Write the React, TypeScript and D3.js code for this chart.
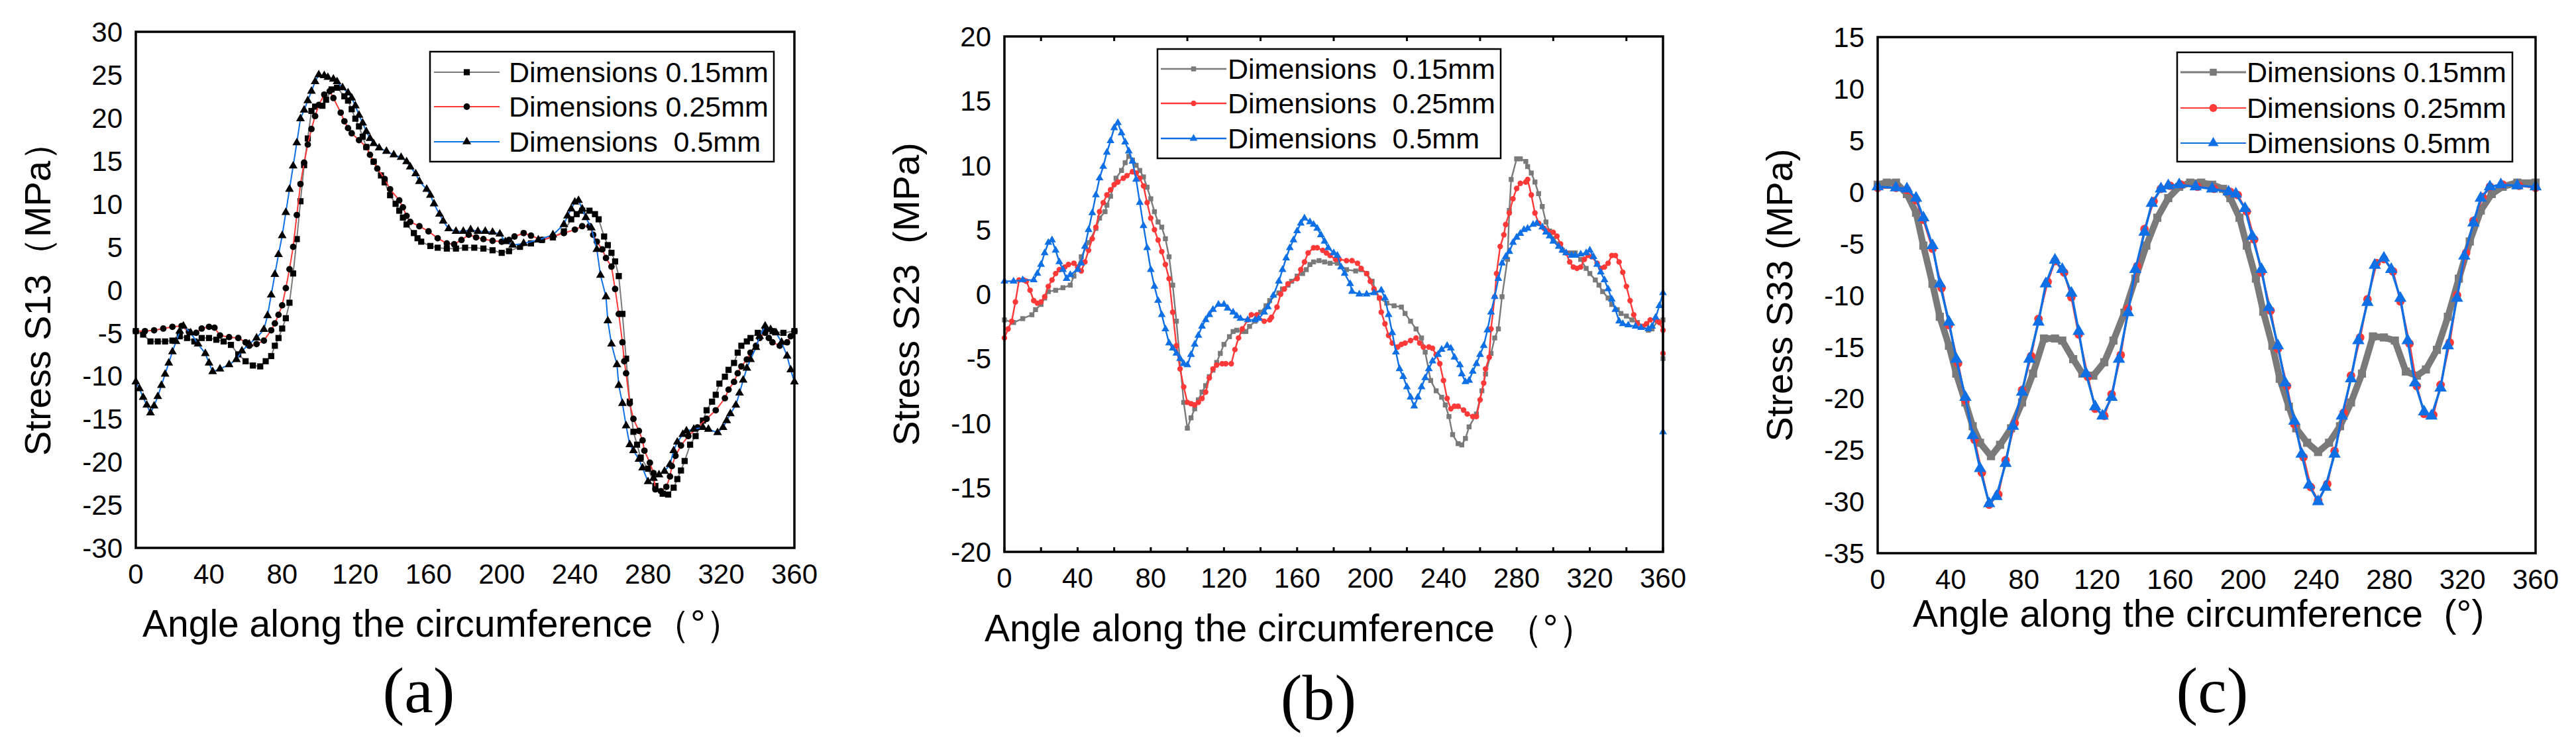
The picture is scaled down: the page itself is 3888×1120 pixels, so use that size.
import * as d3 from 'd3'

type Pt = [number, number]

// ---- data: [angle (deg), stress (MPa)] ----
const s13_015: Pt[] = [[0,-4.8],[4,-5.2],[8,-6.0],[12,-6.0],[16,-6.0],[20,-5.9],[24,-5.4],[28,-5.6],[32,-6.0],[36,-5.6],[40,-5.6],[44,-5.8],[48,-6.0],[52,-6.4],[56,-7.5],[60,-8.3],[64,-8.8],[68,-8.9],[71,-8.3],[74,-7.7],[76,-6.5],[78,-5.6],[80,-4.5],[82,-3.3],[84,-1.5],[86,1.9],[88,5.9],[90,10.3],[92,14.5],[94,17.6],[96,20.8],[98,21.3],[102,21.4],[104,22.1],[107,23.3],[110,23.5],[114,22.5],[116,22.0],[118,21.0],[120,19.9],[122,19.0],[124,17.8],[126,16.6],[130,14.9],[134,13.3],[136,12.5],[139,11.0],[142,10.0],[144,9.2],[146,8.4],[148,7.6],[152,6.6],[154,6.0],[156,5.6],[161,5.1],[165,4.9],[170,4.8],[175,4.8],[180,4.9],[185,4.9],[190,4.8],[195,4.6],[200,4.3],[204,4.5],[210,5.0],[216,5.4],[222,5.8],[228,6.1],[234,6.8],[238,8.2],[241,8.8],[244,9.2],[248,9.2],[251,8.8],[253,8.2],[256,6.2],[258,5.2],[260,4.3],[262,3.3],[264,1.6],[266,-2.8],[268,-8.0],[270,-13.0],[272,-16.5],[274,-18.0],[276,-19.5],[280,-20.8],[284,-22.8],[288,-23.7],[291,-23.8],[294,-23.0],[296,-22.0],[298,-21.0],[300,-19.9],[303,-18.0],[306,-17.0],[310,-15.2],[312,-14.0],[315,-13.0],[317,-12.2],[319,-10.9],[322,-10.1],[324,-9.3],[327,-8.5],[329,-7.3],[331,-6.5],[334,-6.0],[336,-5.6],[340,-5.0],[344,-4.6],[348,-4.8],[354,-5.0],[360,-4.8]]
const s13_025: Pt[] = [[0,-4.8],[5,-4.8],[10,-4.7],[15,-4.5],[20,-4.3],[25,-4.2],[29,-4.9],[33,-5.0],[36,-4.5],[40,-4.3],[43,-4.4],[46,-5.3],[51,-5.5],[56,-5.6],[60,-6.1],[62,-6.5],[66,-6.3],[70,-5.9],[74,-4.7],[76,-3.9],[78,-2.9],[80,-1.8],[82,0.2],[84,2.4],[86,5.0],[88,8.7],[90,12.3],[92,14.8],[94,16.9],[96,18.7],[98,20.2],[100,21.5],[103,22.7],[106,23.1],[108,22.3],[112,20.6],[114,19.6],[116,18.8],[118,18.2],[122,17.4],[126,16.6],[128,15.7],[130,14.9],[132,14.1],[136,12.9],[139,11.7],[144,10.4],[146,9.6],[148,8.6],[150,7.9],[155,7.4],[160,6.8],[165,6.0],[170,5.4],[174,5.3],[178,5.8],[182,6.4],[186,6.1],[190,5.9],[195,5.7],[200,5.6],[204,5.8],[207,6.2],[212,6.6],[216,6.3],[222,5.8],[228,6.2],[234,6.6],[240,7.0],[244,7.4],[248,7.4],[250,6.4],[252,5.6],[255,4.7],[257,3.7],[260,2.7],[262,0.1],[264,-2.8],[266,-6.1],[267,-8.3],[268,-9.7],[270,-13.2],[272,-15.0],[275,-16.4],[277,-17.5],[278,-18.7],[281,-20.1],[283,-21.3],[284,-23.2],[287,-23.4],[290,-22.9],[292,-21.7],[293,-20.5],[295,-19.3],[298,-18.1],[302,-17.0],[307,-16.0],[312,-15.0],[317,-14.0],[322,-12.6],[324,-11.6],[327,-10.7],[329,-9.7],[331,-8.9],[334,-8.1],[336,-7.3],[339,-6.5],[341,-5.6],[344,-5.0],[346,-5.6],[348,-6.1],[352,-6.5],[356,-6.1],[358,-5.4],[360,-4.8]]
const s13_05: Pt[] = [[0,-10.7],[2,-11.5],[4,-12.5],[6,-13.4],[8,-14.3],[10,-13.5],[12,-12.4],[14,-11.1],[16,-9.8],[18,-8.5],[20,-7.2],[22,-6.0],[24,-4.8],[26,-4.2],[30,-5.0],[34,-6.3],[38,-7.4],[40,-8.5],[42,-9.5],[46,-9.2],[51,-8.7],[55,-8.1],[58,-7.1],[62,-6.3],[66,-5.6],[70,-4.6],[72,-3.0],[74,-0.6],[76,1.8],[78,4.1],[80,6.3],[82,9.0],[84,11.7],[86,14.4],[88,17.1],[90,19.9],[92,20.9],[94,22.0],[96,23.1],[98,24.2],[100,25.0],[103,24.9],[105,24.7],[108,24.5],[110,24.2],[113,23.5],[116,22.9],[118,22.3],[120,21.4],[122,20.3],[124,19.4],[126,18.4],[128,17.6],[130,17.0],[133,16.5],[137,16.1],[141,15.7],[145,15.4],[148,14.9],[150,14.3],[153,13.5],[155,12.6],[159,11.7],[161,11.0],[163,10.0],[166,8.8],[168,8.0],[171,7.1],[175,6.8],[179,6.8],[183,7.0],[187,6.8],[191,6.8],[195,6.7],[199,6.5],[202,5.6],[206,5.2],[212,5.4],[220,5.8],[228,6.4],[234,7.6],[236,8.6],[238,9.4],[240,10.2],[242,10.4],[244,9.4],[246,8.4],[249,7.2],[252,4.7],[254,1.7],[257,-0.8],[258,-3.6],[260,-6.3],[263,-8.7],[264,-11.1],[266,-13.2],[268,-15.8],[270,-18.0],[272,-18.7],[275,-19.7],[277,-20.7],[280,-22.3],[283,-21.9],[286,-21.5],[289,-21.1],[292,-20.3],[294,-18.7],[296,-17.7],[299,-16.8],[301,-16.4],[305,-16.2],[310,-16.0],[313,-16.2],[318,-16.6],[321,-16.0],[323,-15.2],[325,-14.4],[328,-13.4],[330,-12.0],[332,-10.5],[334,-9.1],[336,-8.1],[339,-6.7],[341,-5.4],[344,-4.2],[347,-4.6],[350,-5.0],[353,-6.1],[356,-7.7],[358,-9.3],[360,-10.7]]

const s23_015: Pt[] = [[0,-2.0],[5,-2.2],[10,-1.9],[15,-1.6],[17,-1.2],[20,-0.8],[22,-0.3],[24,0.2],[28,0.3],[32,0.5],[36,0.7],[38,1.4],[42,2.9],[46,4.0],[50,5.1],[52,5.9],[55,6.4],[56,6.9],[58,7.6],[61,9.0],[64,9.6],[66,10.2],[68,10.7],[70,10.4],[72,10.0],[74,9.6],[76,9.1],[78,8.3],[80,7.4],[82,6.4],[84,5.6],[86,5.2],[88,4.3],[90,2.9],[92,0.7],[94,-2.1],[98,-8.4],[100,-10.4],[102,-9.6],[104,-8.9],[106,-8.2],[108,-7.6],[110,-7.1],[112,-6.4],[114,-5.9],[116,-5.3],[118,-4.6],[120,-3.9],[123,-3.3],[125,-2.9],[127,-2.8],[130,-2.9],[132,-2.9],[134,-2.5],[137,-2.1],[140,-1.4],[143,-0.9],[145,-0.5],[150,0.1],[152,0.4],[155,0.7],[157,1.0],[160,1.4],[163,1.6],[165,1.9],[167,2.3],[169,2.5],[172,2.6],[175,2.5],[178,2.4],[182,2.4],[187,1.9],[192,1.8],[195,1.9],[198,1.6],[201,1.0],[205,-0.3],[209,-0.7],[213,-0.9],[217,-1.0],[219,-1.5],[222,-2.1],[225,-2.7],[228,-3.4],[230,-4.5],[233,-6.7],[236,-7.5],[239,-8.0],[241,-8.6],[243,-9.5],[245,-10.9],[248,-11.6],[250,-11.7],[252,-11.2],[254,-10.3],[258,-9.3],[261,-7.5],[263,-6.2],[266,-4.6],[268,-3.4],[270,-2.7],[272,-0.2],[275,2.7],[276,6.5],[277,8.9],[280,10.5],[282,10.5],[285,10.3],[286,9.9],[288,9.4],[290,8.7],[292,7.8],[294,6.8],[296,5.6],[298,4.9],[300,4.3],[303,3.9],[305,3.4],[308,3.2],[310,3.2],[312,3.2],[315,2.7],[318,2.0],[320,1.6],[323,1.1],[325,0.7],[327,0.2],[330,-0.3],[332,-0.8],[335,-1.2],[337,-1.5],[340,-1.7],[343,-2.0],[346,-2.2],[349,-2.5],[352,-2.8],[354,-2.7],[357,-2.1],[360,-2.0],[360,-5.0]]
const s23_025: Pt[] = [[0,-3.4],[2,-2.7],[4,-2.1],[6,-0.6],[8,1.1],[10.5,1.1],[12,1.0],[14,0.3],[16,-0.5],[18,-0.7],[20,-0.6],[22,-0.2],[24,0.6],[26,1.1],[28,1.6],[30,1.9],[33,2.1],[35,2.3],[38,2.4],[40,2.1],[42,1.8],[44,2.5],[46,3.4],[48,4.3],[50,5.2],[52,6.4],[54,7.1],[56,7.7],[58,8.1],[60,8.5],[62,8.7],[65,9.0],[67,9.2],[70,9.5],[72,9.4],[74,9.0],[76,8.4],[78,7.1],[80,5.9],[82,5.0],[84,4.2],[86,3.3],[88,2.3],[90,1.2],[92,-1.4],[94,-4.0],[96,-5.8],[98,-7.2],[100,-8.4],[102,-8.5],[104,-8.6],[106,-8.4],[108,-8.1],[110,-7.6],[112,-6.5],[114,-5.8],[116,-5.5],[119,-5.4],[121,-5.4],[124,-5.4],[126,-4.3],[128,-3.4],[130,-2.7],[133,-2.0],[135,-1.6],[138,-1.6],[142,-2.1],[145,-2.0],[146,-1.8],[149,-1.0],[151,0.0],[153,0.4],[155,0.8],[160,1.2],[162,1.9],[164,2.5],[166,3.2],[169,3.6],[171,3.6],[174,3.4],[176,3.2],[178,3.0],[181,2.7],[183,2.7],[187,2.6],[190,2.6],[193,2.4],[195,2.0],[198,1.6],[200,1.0],[202,0.4],[205,-0.3],[206,-1.4],[208,-2.3],[210,-3.2],[212,-3.8],[215,-4.1],[217,-3.9],[219,-3.8],[222,-3.6],[225,-3.4],[227,-3.8],[229,-4.1],[232,-4.1],[234,-4.2],[236,-4.7],[238,-5.4],[240,-6.7],[242,-8.1],[244,-8.9],[246,-8.7],[248,-8.7],[251,-9.0],[253,-9.3],[256,-9.5],[258,-9.5],[260,-8.2],[262,-6.9],[263,-5.8],[265,-4.9],[266,-2.7],[268,-0.2],[269,1.6],[271,3.7],[273,4.6],[274,5.4],[276,6.3],[278,7.4],[280,8.2],[282,8.6],[285,8.7],[286,8.9],[288,7.7],[290,6.3],[292,5.5],[295,5.1],[297,4.9],[300,4.8],[302,4.5],[304,3.9],[307,3.2],[309,2.5],[311,2.1],[313,2.0],[315,2.1],[317,2.7],[319,3.0],[321,2.9],[324,2.4],[326,2.0],[328,2.1],[330,2.4],[332,3.0],[334,3.0],[336,2.5],[338,1.7],[340,0.6],[342,-0.5],[344,-1.6],[346,-2.3],[349,-2.5],[351,-2.3],[353,-2.0],[356,-2.0],[358,-2.2],[360,-2.8],[360,-4.6]]
const s23_05: Pt[] = [[0,1.0],[5,1.0],[10,1.1],[16,1.1],[18,1.6],[20,2.3],[22,3.2],[24,4.0],[26,4.2],[28,3.4],[30,2.5],[32,1.9],[34,1.2],[36,1.5],[40,1.9],[42,2.4],[44,3.7],[46,5.0],[48,6.3],[50,7.7],[52,9.0],[54,9.9],[56,11.0],[58,11.9],[60,12.9],[62,13.3],[64,12.5],[66,11.8],[68,11.1],[70,10.3],[72,8.9],[74,7.1],[76,5.3],[78,3.6],[80,1.9],[82,0.6],[84,-0.5],[86,-1.6],[88,-2.7],[90,-3.8],[92,-4.2],[94,-4.6],[96,-5.0],[98,-5.4],[100,-5.5],[102,-4.7],[104,-3.9],[106,-3.2],[108,-2.5],[110,-2.0],[112,-1.6],[114,-1.2],[117,-0.8],[120,-0.8],[122,-1.1],[125,-1.4],[127,-1.7],[129,-1.9],[133,-2.0],[137,-2.0],[139,-1.9],[142,-1.4],[144,-1.0],[147,-0.1],[150,1.0],[152,1.9],[154,2.8],[156,3.6],[158,4.2],[160,4.9],[162,5.5],[164,5.9],[167,5.6],[169,5.4],[171,5.1],[173,4.6],[175,4.1],[177,3.6],[180,3.2],[182,3.0],[184,2.1],[186,1.6],[189,0.8],[190,0.2],[194,0.0],[198,0.0],[202,0.1],[206,0.3],[208,-0.3],[210,-1.6],[212,-3.0],[214,-4.5],[216,-5.8],[218,-6.4],[220,-7.2],[222,-8.0],[224,-8.7],[226,-8.0],[228,-7.2],[230,-6.5],[232,-5.8],[234,-5.2],[237,-4.7],[239,-4.3],[242,-4.0],[244,-4.2],[246,-4.9],[249,-5.5],[250,-6.2],[252,-6.8],[254,-6.7],[256,-6.0],[258,-5.4],[260,-4.7],[262,-4.0],[264,-2.8],[266,-1.4],[268,-0.2],[270,1.2],[272,2.4],[274,2.9],[276,3.3],[278,4.0],[280,4.4],[282,4.7],[284,5.0],[286,5.1],[289,5.4],[291,5.5],[294,5.2],[296,4.8],[298,4.5],[300,4.1],[303,3.7],[305,3.4],[307,3.2],[310,3.0],[312,3.0],[315,3.1],[318,3.2],[320,3.4],[322,2.9],[324,2.3],[326,1.7],[328,1.1],[330,0.4],[332,-0.4],[334,-1.2],[336,-2.1],[338,-2.3],[341,-2.4],[345,-2.5],[348,-2.6],[352,-2.7],[354,-2.5],[356,-1.8],[358,-0.9],[360,0.1],[360,-10.7]]

const s33_015: Pt[] = [[0,0.7],[5,0.9],[10,0.9],[16,-0.2],[21,-2.0],[25,-5.2],[30,-8.9],[34,-12.1],[39,-14.9],[43,-17.6],[48,-20.4],[52,-22.7],[56,-24.3],[62,-25.6],[67,-24.5],[73,-22.9],[79,-20.4],[85,-17.6],[91,-14.2],[97,-14.2],[101,-14.4],[107,-16.2],[112,-17.6],[118,-17.8],[124,-16.5],[129,-14.4],[135,-11.7],[141,-8.4],[147,-5.2],[153,-2.5],[159,-0.6],[165,0.5],[171,0.9],[177,0.9],[183,0.7],[189,0.3],[193,-0.6],[198,-2.5],[202,-5.2],[207,-8.4],[211,-11.6],[216,-14.9],[220,-18.1],[225,-20.8],[229,-22.9],[235,-24.3],[241,-25.2],[247,-24.3],[253,-22.7],[259,-20.4],[265,-17.6],[271,-14.0],[277,-14.1],[283,-14.4],[289,-17.4],[295,-17.8],[300,-17.2],[306,-15.3],[312,-12.1],[318,-8.4],[324,-4.8],[330,-1.8],[336,-0.2],[342,0.5],[350,0.9],[360,0.9]]
const s33_025: Pt[] = [[0,0.4],[10,0.4],[16,0.2],[21,-0.8],[25,-2.7],[30,-5.5],[35,-9.3],[39,-12.9],[44,-16.6],[48,-20.2],[53,-24.0],[57,-27.2],[61,-30.3],[66,-29.3],[70,-26.0],[75,-22.4],[79,-19.2],[84,-15.9],[88,-12.3],[93,-8.7],[97,-6.7],[102,-7.8],[106,-10.2],[110,-13.8],[115,-17.9],[119,-21.0],[124,-21.7],[128,-19.6],[133,-15.8],[137,-11.3],[142,-7.2],[146,-3.6],[151,-0.9],[155,0.3],[160,0.6],[166,0.7],[175,0.5],[184,0.3],[193,0.0],[197,-0.3],[202,-1.9],[206,-4.6],[210,-7.8],[215,-11.5],[219,-15.2],[224,-18.8],[228,-22.5],[233,-25.7],[237,-28.6],[241,-29.9],[246,-28.3],[250,-25.1],[255,-21.4],[259,-17.8],[264,-14.1],[268,-10.4],[273,-6.9],[277,-6.5],[282,-7.7],[286,-10.6],[291,-14.7],[295,-18.8],[299,-21.5],[304,-21.6],[308,-18.7],[313,-14.6],[317,-10.0],[322,-5.9],[326,-2.8],[331,-0.5],[335,0.5],[342,0.7],[351,0.6],[360,0.4]]
const s33_05: Pt[] = [[0,0.5],[10,0.4],[16,0.3],[21,-0.6],[25,-2.5],[30,-5.2],[34,-8.9],[39,-12.6],[43,-16.2],[48,-19.9],[52,-23.6],[56,-26.8],[61,-30.2],[65,-29.5],[70,-26.3],[74,-22.7],[79,-19.4],[83,-16.2],[88,-12.6],[92,-8.9],[97,-6.6],[101,-7.5],[106,-9.8],[110,-13.5],[114,-17.6],[119,-20.8],[123,-21.7],[128,-19.9],[132,-16.2],[137,-11.7],[141,-7.5],[146,-3.9],[150,-1.1],[155,0.3],[159,0.6],[165,0.7],[174,0.5],[183,0.3],[192,0.0],[196,-0.2],[201,-1.6],[205,-4.3],[210,-7.5],[214,-11.2],[219,-14.9],[223,-18.5],[228,-22.2],[232,-25.4],[236,-28.4],[241,-30.0],[245,-28.6],[250,-25.4],[254,-21.7],[259,-18.1],[263,-14.4],[268,-10.7],[272,-7.1],[277,-6.4],[281,-7.5],[286,-10.3],[290,-14.4],[294,-18.5],[299,-21.3],[303,-21.7],[308,-19.0],[312,-14.9],[317,-10.3],[321,-6.2],[326,-3.0],[330,-0.6],[335,0.5],[341,0.7],[350,0.6],[360,0.5]]

const xTickValues = [0, 40, 80, 120, 160, 200, 240, 280, 320, 360]
const legendA = ['Dimensions 0.15mm', 'Dimensions 0.25mm', 'Dimensions  0.5mm']
const legendB = ['Dimensions  0.15mm', 'Dimensions  0.25mm', 'Dimensions  0.5mm']
const legendC = ['Dimensions 0.15mm', 'Dimensions 0.25mm', 'Dimensions 0.5mm']

const SANS = 'Liberation Sans, Arial, Helvetica, sans-serif'
const SERIF = 'Liberation Serif, Times New Roman, serif'
const GRAY = '#7a7a7a', RED = '#ff3838', BLUE = '#0f70e6'

type Series = { data: Pt[]; color: string; lw: number; sym: d3.SymbolType; size: number; fill: string }
type PanelCfg = {
  x0: number; y0: number; w: number; h: number
  yDomain: [number, number]
  series: Series[]
  legend: { x: number; y: number; w: number; h: number; rows: number[]; l0: number; l1: number; tx: number; labels: string[]; lw: number[] }
  yTitle: string; yTitleX: number
  xTitle: string; xTitleX: number; xTitleY: number
  label: string; labelX: number; labelY: number
  innerTicks?: boolean
}

const panels: PanelCfg[] = [
  {
    x0: 205, y0: 48, w: 994, h: 779, yDomain: [-30, 30],
    series: [
      { data: s13_015, color: GRAY, lw: 2, sym: d3.symbolSquare, size: 85, fill: '#000' },
      { data: s13_025, color: RED, lw: 2, sym: d3.symbolCircle, size: 75, fill: '#000' },
      { data: s13_05, color: BLUE, lw: 2, sym: d3.symbolTriangle, size: 75, fill: '#000' },
    ],
    legend: { x: 649, y: 78, w: 519, h: 166, rows: [109, 161, 214], l0: 655, l1: 754, tx: 768, labels: legendA, lw: [2, 2, 2] },
    yTitle: 'Stress S13（MPa）', yTitleX: 76,
    xTitle: 'Angle along the circumference（°）', xTitleX: 215, xTitleY: 961,
    label: '(a)', labelX: 632, labelY: 1075,
  },
  {
    x0: 1516, y0: 55, w: 994, h: 778, yDomain: [-20, 20],
    series: [
      { data: s23_015, color: GRAY, lw: 2.4, sym: d3.symbolSquare, size: 55, fill: GRAY },
      { data: s23_025, color: RED, lw: 2.4, sym: d3.symbolCircle, size: 55, fill: RED },
      { data: s23_05, color: BLUE, lw: 2.4, sym: d3.symbolTriangle, size: 60, fill: BLUE },
    ],
    legend: { x: 1747, y: 74, w: 518, h: 165, rows: [104, 156, 209], l0: 1752, l1: 1851, tx: 1853, labels: legendB, lw: [2.4, 2.4, 2.4] },
    yTitle: 'Stress S23  (MPa)', yTitleX: 1387,
    xTitle: 'Angle along the circumference （°）', xTitleX: 1486, xTitleY: 968,
    label: '(b)', labelX: 1990, labelY: 1086,
    innerTicks: true,
  },
  {
    x0: 2834, y0: 56, w: 993, h: 779, yDomain: [-35, 15],
    series: [
      { data: s33_015, color: GRAY, lw: 10, sym: d3.symbolSquare, size: 150, fill: GRAY },
      { data: s33_025, color: RED, lw: 3, sym: d3.symbolCircle, size: 130, fill: RED },
      { data: s33_05, color: BLUE, lw: 3.5, sym: d3.symbolTriangle, size: 150, fill: BLUE },
    ],
    legend: { x: 3286, y: 79, w: 506, h: 165, rows: [109, 163, 216], l0: 3291, l1: 3390, tx: 3391, labels: legendC, lw: [3, 2, 2] },
    yTitle: 'Stress S33 (MPa)', yTitleX: 2705,
    xTitle: 'Angle along the circumference  (°)', xTitleX: 2887, xTitleY: 946,
    label: '(c)', labelX: 3339, labelY: 1075,
  },
]

const Panel = ({ p }: { p: PanelCfg }) => {
  const x = d3.scaleLinear().domain([0, 360]).range([p.x0, p.x0 + p.w])
  const y = d3.scaleLinear().domain(p.yDomain).range([p.y0 + p.h, p.y0])
  const yTicks = d3.range(p.yDomain[0], p.yDomain[1] + 0.1, 5)
  const line = d3.line<Pt>().x(d => x(d[0])).y(d => y(d[1]))
  const yMid = p.y0 + p.h / 2
  const minor = d3.range(0, 361, 20)
  const topTicks = d3.range(20, 360, 40)
  return (
    <g>
      {p.innerTicks && minor.map(t => (
        <line key={'b' + t} x1={x(t)} x2={x(t)} y1={p.y0 + p.h} y2={p.y0 + p.h - 7} stroke="#000" strokeWidth={3} />
      ))}
      {p.innerTicks && topTicks.map(t => (
        <line key={'t' + t} x1={x(t)} x2={x(t)} y1={p.y0} y2={p.y0 + 7} stroke="#000" strokeWidth={3} />
      ))}
      {p.series.map((s, i) => (
        <g key={i}>
          <path d={line(s.data) || ''} fill="none" stroke={s.color} strokeWidth={s.lw} strokeLinejoin="round" />
          {s.data.map((d, j) => (
            <path key={j} d={d3.symbol().type(s.sym).size(s.size)() || ''}
              transform={`translate(${x(d[0])},${y(d[1])})`} fill={s.fill} />
          ))}
        </g>
      ))}
      <rect x={p.x0} y={p.y0} width={p.w} height={p.h} fill="none" stroke="#000" strokeWidth={3.5} />
      {yTicks.map(t => (
        <text key={t} x={p.x0 - 20} y={y(t)} dy="0.36em" textAnchor="end" fontFamily={SANS} fontSize={42}>{t}</text>
      ))}
      {xTickValues.map(t => (
        <text key={t} x={x(t)} y={p.y0 + p.h + 54} textAnchor="middle" fontFamily={SANS} fontSize={42}>{t}</text>
      ))}
      <text transform={`translate(${p.yTitleX},${yMid}) rotate(-90)`} textAnchor="middle" fontFamily={SANS}
        fontSize={56} style={{ whiteSpace: 'pre' }}>{p.yTitle}</text>
      <text x={p.xTitleX} y={p.xTitleY} fontFamily={SANS} fontSize={57} style={{ whiteSpace: 'pre' }}>{p.xTitle}</text>
      <text x={p.labelX} y={p.labelY} textAnchor="middle" fontFamily={SERIF} fontSize={98}>{p.label}</text>
      <rect x={p.legend.x} y={p.legend.y} width={p.legend.w} height={p.legend.h} fill="#fff" stroke="#000" strokeWidth={2.5} />
      {p.series.map((s, i) => {
        const ry = p.legend.rows[i]
        const mx = (p.legend.l0 + p.legend.l1) / 2
        return (
          <g key={'lg' + i}>
            <line x1={p.legend.l0} x2={p.legend.l1} y1={ry} y2={ry} stroke={s.color} strokeWidth={p.legend.lw[i]} />
            <path d={d3.symbol().type(s.sym).size(Math.min(s.size, 110))() || ''} transform={`translate(${mx},${ry})`} fill={s.fill} />
            <text x={p.legend.tx} y={ry} dy="0.36em" fontFamily={SANS} fontSize={43} style={{ whiteSpace: 'pre' }}>{p.legend.labels[i]}</text>
          </g>
        )
      })}
    </g>
  )
}

export default function App() {
  return (
    <div style={{ position: 'absolute', left: 0, top: 0 }}>
      <svg width={3888} height={1120} viewBox="0 0 3888 1120" style={{ display: 'block', background: '#fff' }}>
        {panels.map((p, i) => <Panel key={i} p={p} />)}
      </svg>
    </div>
  )
}
